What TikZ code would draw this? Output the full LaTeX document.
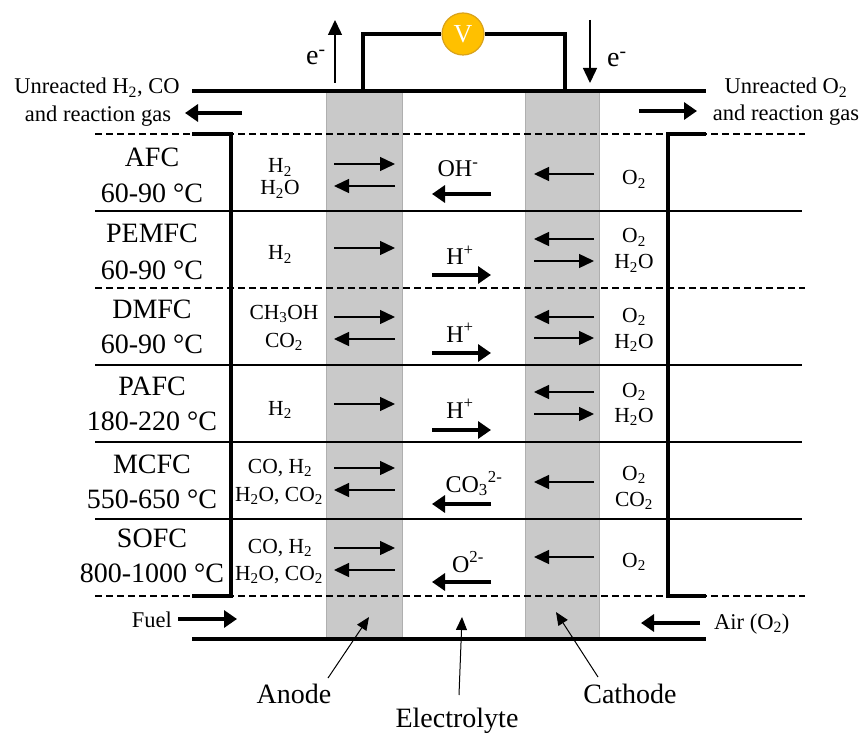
\documentclass[tikz,border=0pt]{standalone}
\usepackage{fontspec}
\setmainfont{Liberation Serif}
\usetikzlibrary{arrows.meta}
\definecolor{bandgray}{HTML}{C9C9C9}
\definecolor{bandedge}{HTML}{AFAFAF}
\definecolor{vgold}{HTML}{FFC000}
\definecolor{vedge}{HTML}{D9A21B}
\newcommand\sbs[1]{\textsubscript{#1}}
\newcommand\sps[1]{\textsuperscript{#1}}
\begin{document}
\begin{tikzpicture}[x=1pt,y=-1pt,
  wire/.style={line width=3.5pt},
  rowline/.style={line width=2.5pt},
  dashline/.style={line width=2pt,dash pattern=on 7pt off 4pt},
  band/.style={fill=bandgray,draw=bandedge,line width=0.8pt},
  thinarr/.style={line width=1.4pt,-{Triangle[length=15pt,width=14pt]}},
  boldarr/.style={line width=4pt,-{Triangle[length=13pt,width=17pt]}},
  ptrarr/.style={line width=1pt,-{Triangle[length=13pt,width=11pt]}},
  bigtxt/.style={font=\fontsize{28}{34}\selectfont,anchor=base,inner sep=0pt},
  sptxt/.style={font=\fontsize{21.5}{25}\selectfont,anchor=base,inner sep=0pt},
  iontxt/.style={font=\fontsize{24}{28}\selectfont,anchor=base,inner sep=0pt},
  gastxt/.style={font=\fontsize{22.5}{26}\selectfont,anchor=base,inner sep=0pt},
  vnode/.style={circle,minimum size=42pt,inner sep=0pt,fill=vgold,draw=vedge,line width=1.2pt,text=white,font=\fontsize{26}{30}\selectfont}
]
\useasboundingbox (0,0) rectangle (864,735);

% electrode bands
\path[band] (326,91) rectangle (402,638);
\path[band] (525,91) rectangle (599,638);

% horizontal structure
\draw[wire] (192,91) -- (706,91);
\draw[wire] (192,639) -- (706,639);
\foreach \y in {134,288,596} \draw[dashline] (95,\y) -- (805,\y);
\foreach \y in {211,365,442,519} \draw[rowline] (95,\y) -- (802,\y);
\draw[wire] (192,134) -- (231,134) -- (231,596) -- (192,596);
\draw[wire] (706,134) -- (668,134) -- (668,596) -- (706,596);

% external circuit
\node[vnode] (V) at (463,34) {V};
\coordinate (wl0) at (363,91); \coordinate (wl1) at (363,34);
\coordinate (wr0) at (565,91); \coordinate (wr1) at (565,34);
\draw[wire] (wl0) -- (wl1) -- (V.west);
\draw[wire] (V.east) -- (wr1) -- (wr0);

% electron arrows
\coordinate (eLa) at (335,83); \coordinate (eLb) at (335,20);
\coordinate (eRa) at (590,20); \coordinate (eRb) at (590,83);
\draw[thinarr] (eLa) -- (eLb);
\draw[thinarr] (eRa) -- (eRb);
\node[bigtxt,anchor=base west] (eL) at (306,65) {e\sps{-}};
\node[bigtxt,anchor=base west] (eR) at (607,67) {e\sps{-}};

% exhaust gases
\node[gastxt] (unL1) at (97,94) {Unreacted H\sbs{2}, CO};
\node[gastxt] (unL2) at (98,122) {and reaction gas};
\node[gastxt] (unR1) at (786,94) {Unreacted O\sbs{2}};
\node[gastxt] (unR2) at (786,121) {and reaction gas};
\coordinate (gLa) at (242,113); \coordinate (gLb) at (185,113);
\coordinate (gRa) at (639,111); \coordinate (gRb) at (697,111);
\draw[boldarr] (gLa) -- (gLb);
\draw[boldarr] (gRa) -- (gRb);

% inlet gases
\node[gastxt,anchor=base east] (fuel) at (172,627) {Fuel};
\node[gastxt,anchor=base west] (air) at (714,629) {Air (O\sbs{2})};
\coordinate (fa) at (178,619); \coordinate (fb) at (237,619);
\coordinate (aa) at (700,623); \coordinate (ab) at (641,623);
\draw[boldarr] (fa) -- (fb);
\draw[boldarr] (aa) -- (ab);

% cell type names
\node[bigtxt] (n1) at (152,167) {AFC};
\node[bigtxt] (t1) at (152,203) {60-90 °C};
\node[bigtxt] (n2) at (152,243) {PEMFC};
\node[bigtxt] (t2) at (152,279) {60-90 °C};
\node[bigtxt] (n3) at (152,318) {DMFC};
\node[bigtxt] (t3) at (152,353) {60-90 °C};
\node[bigtxt] (n4) at (152,395) {PAFC};
\node[bigtxt] (t4) at (152,430) {180-220 °C};
\node[bigtxt] (n5) at (152,473) {MCFC};
\node[bigtxt] (t5) at (152,508) {550-650 °C};
\node[bigtxt] (n6) at (152,547) {SOFC};
\node[bigtxt] (t6) at (152,582) {800-1000 °C};

% anode-side species
\node[sptxt] (s1a) at (280,173) {H\sbs{2}};
\node[sptxt] (s1b) at (280,195) {H\sbs{2}O};
\node[sptxt] (s2a) at (280,260) {H\sbs{2}};
\node[sptxt] (s3a) at (284,319) {CH\sbs{3}OH};
\node[sptxt] (s3b) at (284,347) {CO\sbs{2}};
\node[sptxt] (s4a) at (280,415) {H\sbs{2}};
\node[sptxt] (s5a) at (280,473) {CO, H\sbs{2}};
\node[sptxt] (s5b) at (279,501) {H\sbs{2}O, CO\sbs{2}};
\node[sptxt] (s6a) at (280,553) {CO, H\sbs{2}};
\node[sptxt] (s6b) at (279,580) {H\sbs{2}O, CO\sbs{2}};

% cathode-side species
\node[sptxt] (c1a) at (634,185) {O\sbs{2}};
\node[sptxt] (c2a) at (634,243) {O\sbs{2}};
\node[sptxt] (c2b) at (634,269) {H\sbs{2}O};
\node[sptxt] (c3a) at (634,322) {O\sbs{2}};
\node[sptxt] (c3b) at (634,348) {H\sbs{2}O};
\node[sptxt] (c4a) at (634,397) {O\sbs{2}};
\node[sptxt] (c4b) at (634,422) {H\sbs{2}O};
\node[sptxt] (c5a) at (634,480) {O\sbs{2}};
\node[sptxt] (c5b) at (634,506) {CO\sbs{2}};
\node[sptxt] (c6a) at (634,567) {O\sbs{2}};

% ions
\node[iontxt] (i1) at (458,177) {OH\sps{-}};
\node[iontxt] (i2) at (460,265) {H\sps{+}};
\node[iontxt] (i3) at (460,342) {H\sps{+}};
\node[iontxt] (i4) at (460,418) {H\sps{+}};
\node[iontxt] (i5) at (474,492) {CO\sbs{3}\sps{2-}};
\node[iontxt] (i6) at (468,572) {O\sps{2-}};

% ion arrows (bold)
\foreach \k/\y/\dir in {1/194/-1,2/275/1,3/353/1,4/430/1,5/504/-1,6/582/-1}{
  \ifnum\dir=1
    \coordinate (ib\k a) at (432,\y); \coordinate (ib\k b) at (491,\y);
  \else
    \coordinate (ib\k a) at (491,\y); \coordinate (ib\k b) at (432,\y);
  \fi
  \draw[boldarr] (ib\k a) -- (ib\k b);
}

% anode arrows
\foreach \k/\y/\dir in {1/164/1,2/186/-1,3/248/1,4/317/1,5/339/-1,6/404/1,7/468/1,8/490/-1,9/548/1,10/570/-1}{
  \ifnum\dir=1
    \coordinate (an\k a) at (334,\y); \coordinate (an\k b) at (395,\y);
  \else
    \coordinate (an\k a) at (395,\y); \coordinate (an\k b) at (334,\y);
  \fi
  \draw[thinarr] (an\k a) -- (an\k b);
}

% cathode arrows
\foreach \k/\y/\dir in {1/174/-1,2/239/-1,3/261/1,4/317/-1,5/338/1,6/392/-1,7/414/1,8/482/-1,9/557/-1}{
  \ifnum\dir=1
    \coordinate (ca\k a) at (534,\y); \coordinate (ca\k b) at (594,\y);
  \else
    \coordinate (ca\k a) at (594,\y); \coordinate (ca\k b) at (534,\y);
  \fi
  \draw[thinarr] (ca\k a) -- (ca\k b);
}

% component labels
\node[bigtxt] (anode) at (294,703) {Anode};
\node[bigtxt] (cathode) at (630,703) {Cathode};
\node[bigtxt] (electrolyte) at (457,727) {Electrolyte};
\coordinate (pA) at (328,678); \coordinate (pAt) at (369,617);
\coordinate (pE) at (459,695); \coordinate (pEt) at (462,617);
\coordinate (pC) at (598,677); \coordinate (pCt) at (556,612);
\draw[ptrarr] (pA) -- (pAt);
\draw[ptrarr] (pE) -- (pEt);
\draw[ptrarr] (pC) -- (pCt);
\end{tikzpicture}
\end{document}
